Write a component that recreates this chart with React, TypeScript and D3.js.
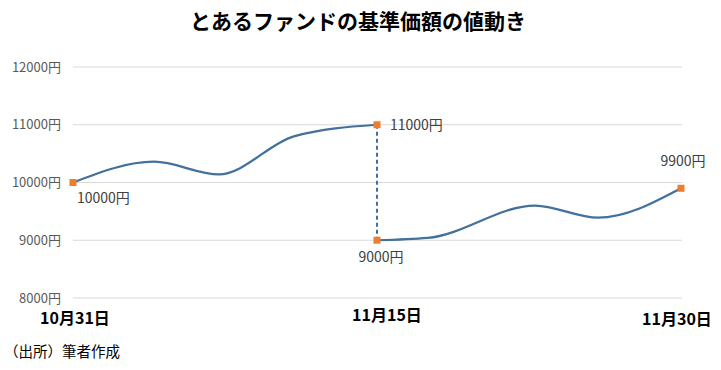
import React from "react";
import * as d3 from "d3";

const TITLE = "とあるファンドの基準価額の値動き";
const SOURCE = "（出所）筆者作成";
const yTicks = [8000, 9000, 10000, 11000, 12000];
const xTickDays = [0, 15, 30];
const xTickLabels = ["10月31日", "11月15日", "11月30日"];

// day offset from 10/31, value in yen
const seg1Days = [0, 4, 7.2, 10.9, 15];
const seg1Values = [10000, 10360, 10140, 10800, 11000];
const seg2Days = [15, 17.5, 22.8, 25.9, 30];
const seg2Values = [9000, 9040, 9600, 9390, 9900];

const markerDays = [0, 15, 15, 30];
const markerValues = [10000, 11000, 9000, 9900];
const markerLabels = ["10000円", "11000円", "9000円", "9900円"];

const W = 721;
const H = 370;
const FONT = "'Noto Sans CJK JP', 'Noto Sans', sans-serif";

export default function App() {
  const x = d3.scaleLinear().domain([0, 30]).range([73, 681]);
  const y = d3.scaleLinear().domain([8000, 12000]).range([298, 67]);
  const line = d3
    .line<[number, number]>()
    .x((d) => x(d[0]))
    .y((d) => y(d[1]))
    .curve(d3.curveMonotoneX);
  const seg1 = seg1Days.map((d, i) => [d, seg1Values[i]] as [number, number]);
  const seg2 = seg2Days.map((d, i) => [d, seg2Values[i]] as [number, number]);

  const labelPos: [number, number, string][] = [
    [4, 20, "start"],
    [13, 5, "start"],
    [4, 22, "middle"],
    [2, -22, "middle"],
  ];
  const xLabelOffsets: [number, number][] = [
    [2, 26],
    [10, 23],
    [-4, 27],
  ];

  return (
    <div style={{ position: "absolute", left: 0, top: 0 }}>
      <svg width={W} height={H} style={{ display: "block", background: "#fff" }} fontFamily={FONT}>
        <rect width={W} height={H} fill="#fff" />
        <text x={358} y={29} textAnchor="middle" fontSize={21} fontWeight="bold" fill="#000">
          {TITLE}
        </text>
        {yTicks.map((t) => (
          <g key={t}>
            <line x1={73} x2={682} y1={y(t)} y2={y(t)} stroke="#d9d9d9" strokeWidth={1} />
            <text x={61} y={y(t) + 4.5} textAnchor="end" fontSize={13} fill="#595959">
              {t}円
            </text>
          </g>
        ))}
        {xTickDays.map((d, i) => (
          <text
            key={d}
            x={x(d) + xLabelOffsets[i][0]}
            y={y(8000) + xLabelOffsets[i][1]}
            textAnchor="middle"
            fontSize={16}
            fontWeight="bold"
            fill="#000"
          >
            {xTickLabels[i]}
          </text>
        ))}
        <line
          x1={x(15)}
          x2={x(15)}
          y1={y(11000)}
          y2={y(9000)}
          stroke="#41719c"
          strokeWidth={2}
          strokeDasharray="4,3"
        />
        <path d={line(seg1) || ""} fill="none" stroke="#41719c" strokeWidth={2.25} />
        <path d={line(seg2) || ""} fill="none" stroke="#41719c" strokeWidth={2.25} />
        {markerDays.map((d, i) => (
          <rect
            key={i}
            x={x(d) - 3.5}
            y={y(markerValues[i]) - 3.5}
            width={7}
            height={7}
            fill="#ed7d31"
          />
        ))}
        {markerDays.map((d, i) => (
          <text
            key={"l" + i}
            x={x(d) + labelPos[i][0]}
            y={y(markerValues[i]) + labelPos[i][1]}
            textAnchor={labelPos[i][2] as any}
            fontSize={14}
            fill="#404040"
          >
            {markerLabels[i]}
          </text>
        ))}
        <text x={4} y={357} fontSize={14.5} fill="#000">
          {SOURCE}
        </text>
      </svg>
    </div>
  );
}
